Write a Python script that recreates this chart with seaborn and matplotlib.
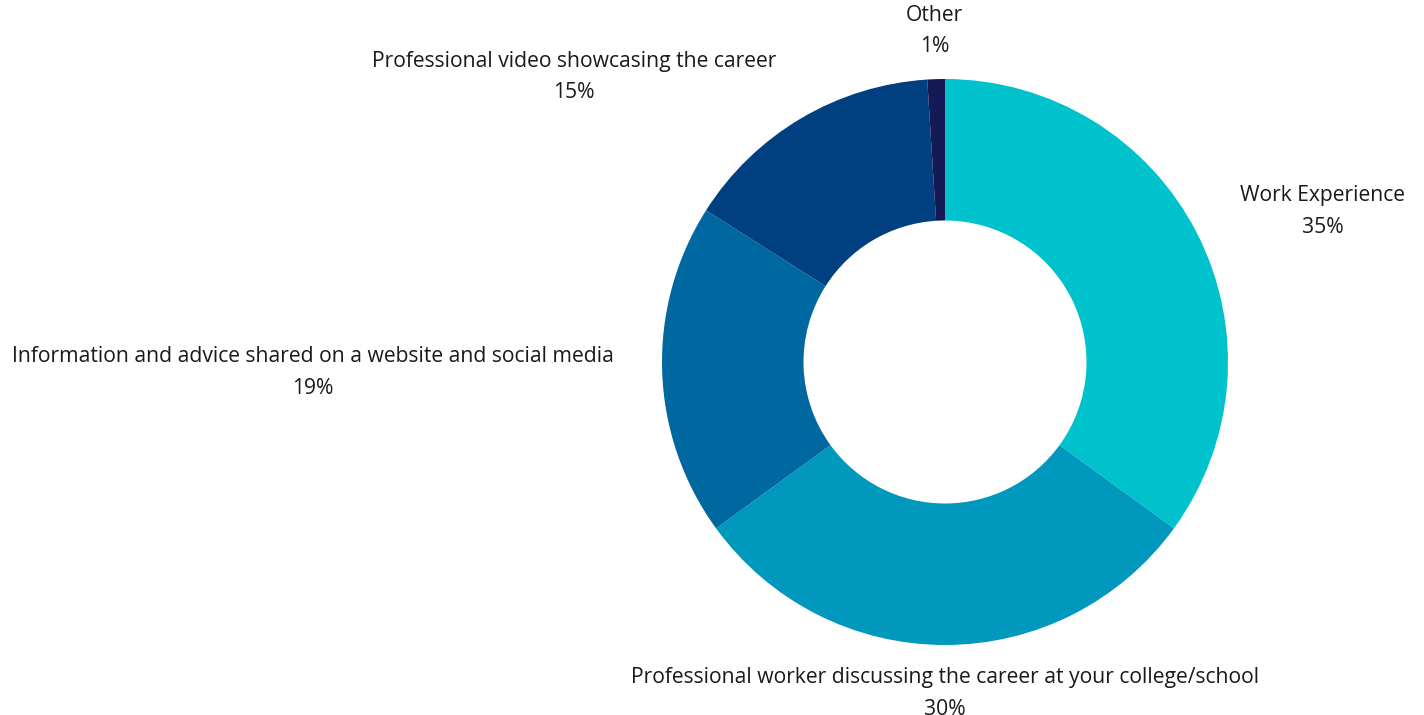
import numpy as np
import matplotlib
matplotlib.use("Agg")
import matplotlib.pyplot as plt
import seaborn as sns

categories = [
    "Work Experience",
    "Professional worker discussing the career at your college/school",
    "Information and advice shared on a website and social media",
    "Professional video showcasing the career",
    "Other",
]
shares = [35, 30, 19, 15, 1]
colors = ["#00C2CC", "#0098BC", "#0068A0", "#004080", "#141A55"]

sns.set_theme(style="white")
plt.rcParams["font.family"] = ["Open Sans", "DejaVu Sans"]

W, H = 1424, 715
fig = plt.figure(figsize=(W / 100, H / 100), dpi=100)
ax = fig.add_axes([0, 0, 1, 1])

palette = sns.color_palette(colors)
wedges, _ = ax.pie(
    shares,
    colors=palette,
    startangle=90,
    counterclock=False,
    radius=1.0,
    wedgeprops=dict(width=0.5, linewidth=0),
)

# label each segment just outside its outer edge
label_r = 1.17
for w, name, val in zip(wedges, categories, shares):
    mid = np.deg2rad((w.theta1 + w.theta2) / 2)
    x, y = label_r * np.cos(mid), label_r * np.sin(mid)
    if abs(np.cos(mid)) < 0.1:
        ha = "center"
    else:
        ha = "left" if x > 0 else "right"
    ax.text(x, y, f"{name}\n{val}%", ha=ha, va="center",
            multialignment="center", fontsize=15.2, color="#1a1a1a",
            linespacing=1.68)

# place the ring centre at pixel (945, 362) with a 283 px radius
cx, cy, R = 945, 362, 283
ax.set_xlim(-cx / R, (W - cx) / R)
ax.set_ylim(-(H - cy) / R, cy / R)
ax.set_aspect("equal", adjustable="box")
ax.axis("off")

fig.savefig("out.png", dpi=100, facecolor="white")
